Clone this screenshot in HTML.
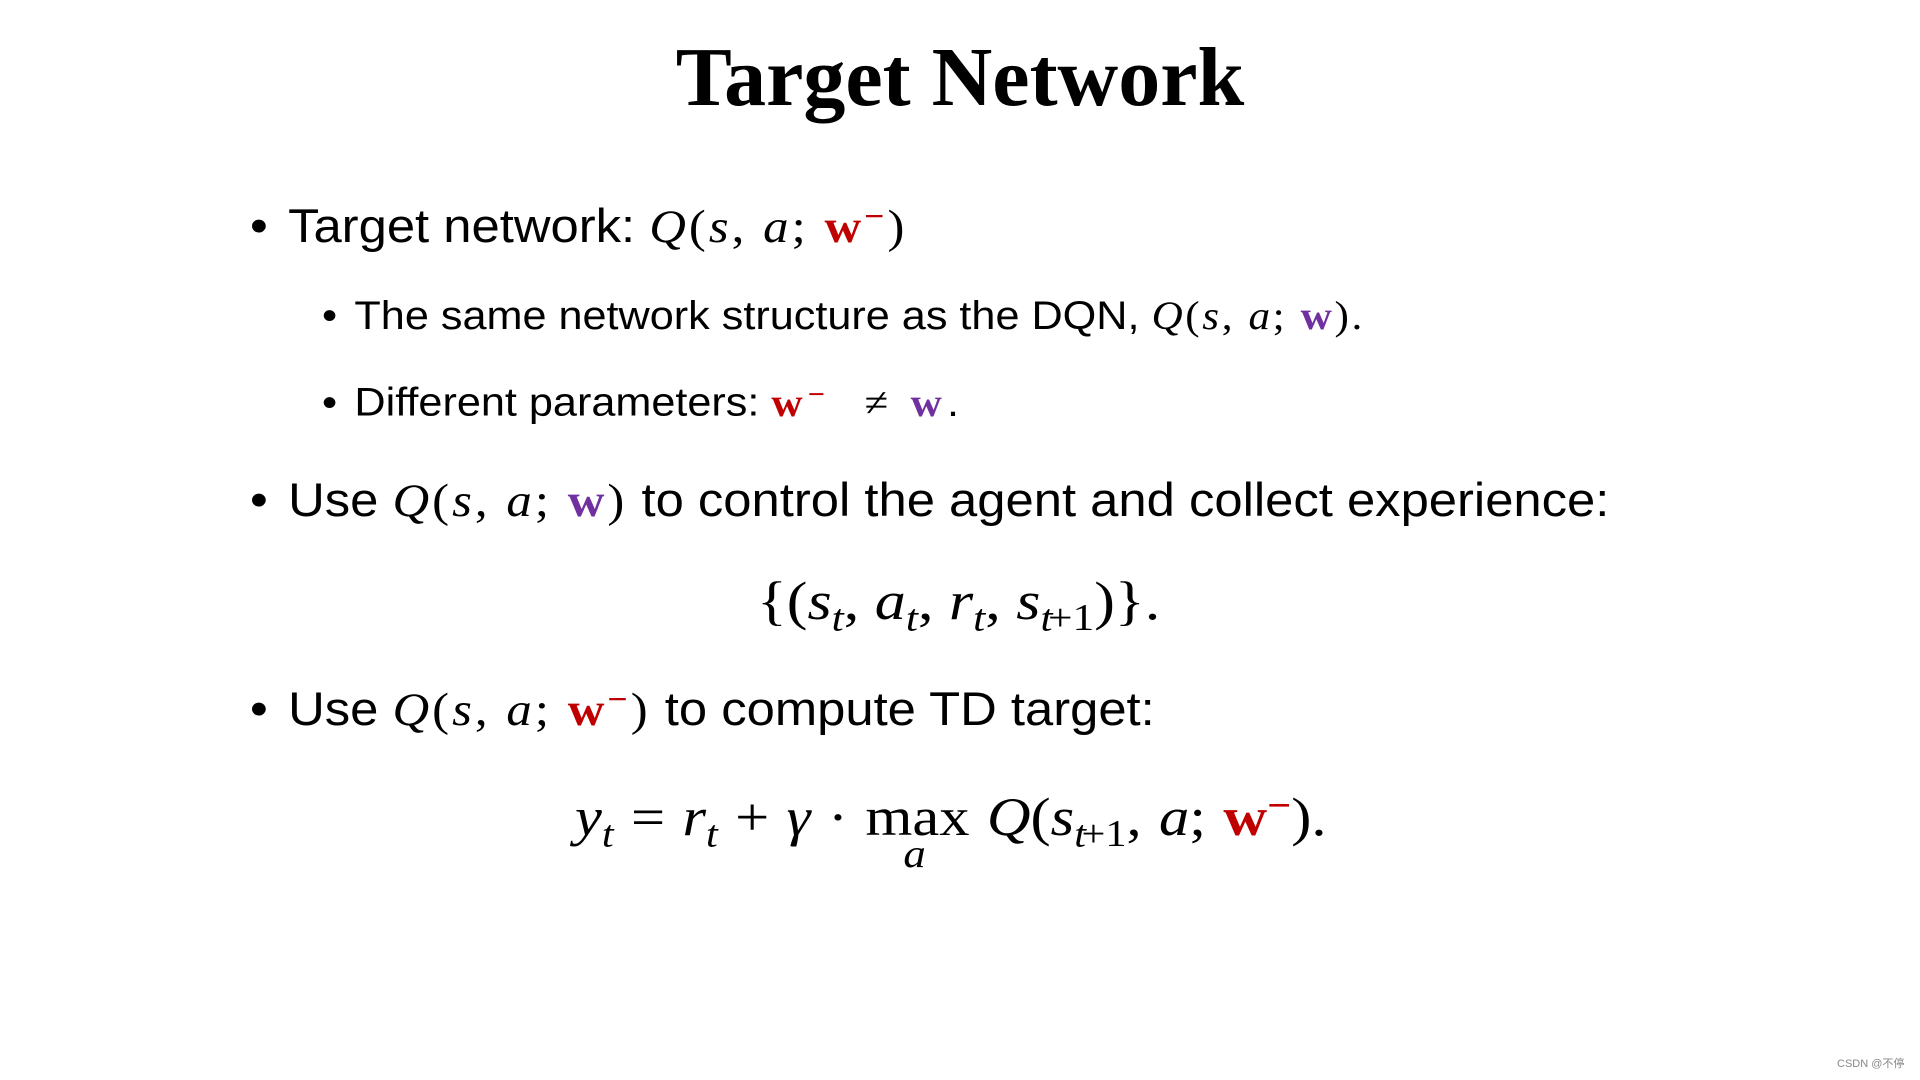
<!DOCTYPE html>
<html><head><meta charset="utf-8"><style>
body{margin:0;width:1920px;height:1080px;background:#fff;position:relative;overflow:hidden;color:#000}
.l{position:absolute;line-height:1;white-space:nowrap;font-family:"Liberation Sans",sans-serif;transform-origin:left top}
.m{font-family:"Liberation Serif",serif;font-style:italic}
.r{font-family:"Liberation Serif",serif;font-style:normal}
.red{color:#c00000;font-family:"Liberation Serif",serif;font-weight:bold;font-style:normal}
.pur{color:#7030a0;font-family:"Liberation Serif",serif;font-weight:bold;font-style:normal}
.mm{letter-spacing:0.06em}
.b{display:inline-block;width:0.75em}
sub{font-size:70%;vertical-align:-0.3em}
sup{font-size:70%;vertical-align:0.45em}
</style></head><body>
<div class="l" style="left:0;width:1920px;text-align:center;top:36px;font-family:'Liberation Serif',serif;font-weight:bold;font-size:84px">Target Network</div>

<div class="l" style="left:250px;top:201px;font-size:47px;transform:scaleX(1.08)"><span class="b">•</span>Target network: <span class="mm"><span class="m">Q</span><span class="r">(</span><span class="m">s</span><span class="r">, </span><span class="m">a</span><span class="r">; </span><span class="red">w<sup>−</sup></span><span class="r">)</span></span></div>

<div class="l" style="left:322px;top:296px;font-size:40px;transform:scaleX(1.08)"><span class="b">•</span>The same network structure as the DQN, <span class="mm"><span class="m">Q</span><span class="r">(</span><span class="m">s</span><span class="r">, </span><span class="m">a</span><span class="r">; </span><span class="pur">w</span><span class="r">).</span></span></div>

<div class="l" style="left:322px;top:381px;font-size:40px;transform:scaleX(1.08)"><span class="b">•</span>Different parameters: <span class="mm" style="letter-spacing:0.12em"><span class="red">w<sup>−</sup></span>&nbsp; <span class="r">≠</span> <span class="pur">w</span>.</span></div>

<div class="l" style="left:250px;top:476px;font-size:47px;transform:scaleX(1.08)"><span class="b">•</span>Use <span class="mm"><span class="m">Q</span><span class="r">(</span><span class="m">s</span><span class="r">, </span><span class="m">a</span><span class="r">; </span><span class="pur">w</span><span class="r">)</span></span> to control the agent and collect experience:</div>

<div class="l" style="left:757px;top:574px;font-size:54px;font-family:'Liberation Serif',serif;transform:scaleX(1.15)">{(<span class="m">s<sub>t</sub></span>, <span class="m">a<sub>t</sub></span>, <span class="m">r<sub>t</sub></span>, <span class="m">s<sub>t</sub></span><sub style="margin-left:-4px">+1</sub>)}.</div>

<div class="l" style="left:250px;top:684px;font-size:47px;transform:scaleX(1.08)"><span class="b">•</span>Use <span class="mm"><span class="m">Q</span><span class="r">(</span><span class="m">s</span><span class="r">, </span><span class="m">a</span><span class="r">; </span><span class="red">w<sup>−</sup></span><span class="r">)</span></span> to compute TD target:</div>

<div class="l" style="left:575px;top:788px;font-size:54px;font-family:'Liberation Serif',serif;transform:scaleX(1.12);word-spacing:2px"><span class="m">y<sub>t</sub></span> = <span class="m">r<sub>t</sub></span> + <span class="m">γ</span> · <span style="position:relative;display:inline-block">max<span class="m" style="position:absolute;left:34px;top:44px;font-size:40px">a</span></span> <span class="m">Q</span>(<span class="m">s<sub>t</sub></span><sub style="margin-left:-4px">+1</sub>, <span class="m">a</span>; <span class="red">w<sup>−</sup></span>).</div>

<div class="l" style="left:1837px;top:1059px;font-size:11px;color:#888;font-family:'Liberation Sans','Noto Sans CJK SC',sans-serif">CSDN @不停</div>
</body></html>
